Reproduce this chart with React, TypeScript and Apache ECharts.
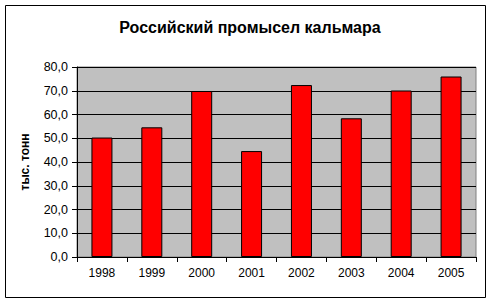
import React, { useEffect, useRef } from "react";
import * as echarts from "echarts";

const categories = ["1998", "1999", "2000", "2001", "2002", "2003", "2004", "2005"];
const catch_ = [50.3, 54.6, 69.9, 44.6, 72.4, 58.4, 70.1, 76.0];
const yTicks = { min: 0, max: 80, interval: 10 };

export default function App() {
  const ref = useRef<HTMLDivElement>(null);
  useEffect(() => {
    document.body.style.margin = "0";
    const chart = echarts.init(ref.current!, null, { renderer: "svg" });
    const font = "'Liberation Sans', Arial, sans-serif";
    chart.setOption({
      animation: false,
      backgroundColor: "#ffffff",
      title: {
        text: "Российский промысел кальмара",
        left: 245,
        textAlign: "center",
        top: 14,
        textStyle: { fontFamily: font, fontSize: 16, fontWeight: "bold", color: "#000" },
      },
      graphic: [
        {
          type: "rect",
          shape: { x: 5.5, y: 5.5, width: 480, height: 292 },
          style: { fill: "none", stroke: "#000", lineWidth: 1 },
          silent: true,
          z: 0,
        },
      ],
      grid: {
        left: 77,
        right: 14,
        top: 67,
        bottom: 45,
        show: true,
        backgroundColor: "#C0C0C0",
        borderColor: "#808080",
        borderWidth: 1,
      },
      xAxis: {
        type: "category",
        data: categories,
        axisLine: { lineStyle: { color: "#000", width: 1 } },
        axisTick: { show: true, length: 5, lineStyle: { color: "#000" } },
        axisLabel: { fontFamily: font, fontSize: 12, color: "#000", margin: 10 },
      },
      yAxis: {
        type: "value",
        min: yTicks.min,
        max: yTicks.max,
        interval: yTicks.interval,
        name: "тыс. тонн",
        nameLocation: "middle",
        nameRotate: 90,
        nameGap: 46,
        nameTextStyle: { fontFamily: font, fontSize: 12, fontWeight: "bold", color: "#000" },
        axisLine: { show: true, lineStyle: { color: "#000", width: 1 } },
        axisTick: { show: true, length: 5, lineStyle: { color: "#000" } },
        axisLabel: {
          fontFamily: font,
          fontSize: 12.5,
          color: "#000",
          margin: 9,
          formatter: (v: number) => v.toFixed(1).replace(".", ","),
        },
        splitLine: { show: true, lineStyle: { color: "#000", width: 1 } },
      },
      series: [
        {
          type: "bar",
          data: catch_,
          barWidth: 21,
          itemStyle: { color: "#FF0000", borderColor: "#000", borderWidth: 1 },
        },
      ],
    });
    return () => chart.dispose();
  }, []);
  return <div ref={ref} style={{ width: 490, height: 302 }} />;
}
